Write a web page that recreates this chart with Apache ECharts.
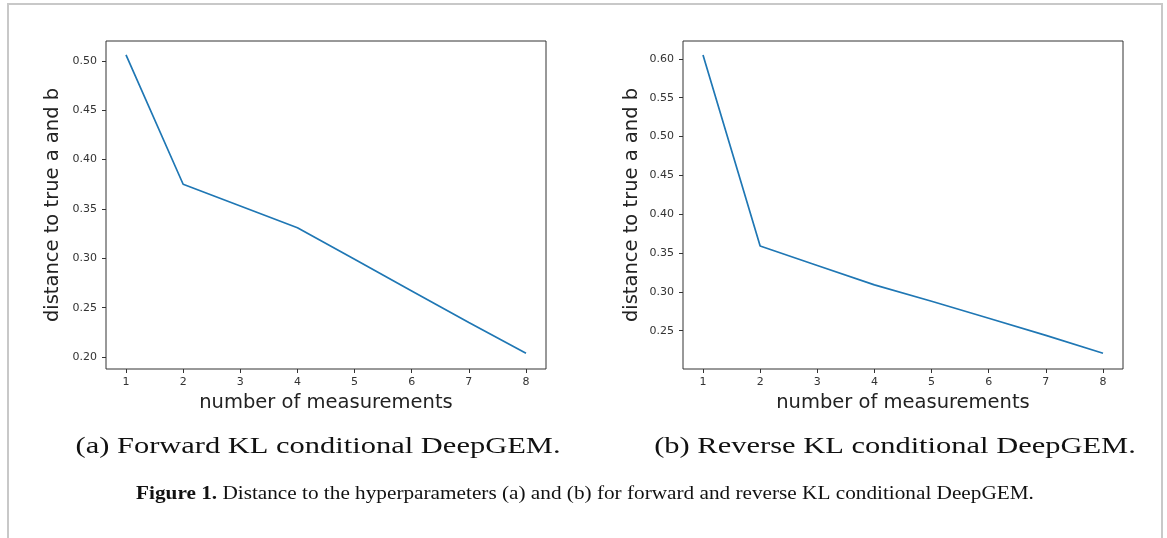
<!DOCTYPE html>
<html>
<head>
<meta charset="utf-8">
<script src="https://cdn.jsdelivr.net/npm/echarts@6/dist/echarts.min.js"></script>
<style>
  html, body { margin: 0; padding: 0; background: #fff; }
  #main { width: 1167px; height: 538px; }
</style>
</head>
<body>
<div id="main"></div>
<script>
// number of measurements
var measurements = [1, 2, 3, 4, 5, 6, 7, 8];
// (a) forward KL, (b) reverse KL - distance to true a and b
var forwardKL = [0.506, 0.375, 0.353, 0.331, 0.299, 0.267, 0.235, 0.204];
var reverseKL = [0.605, 0.359, 0.334, 0.309, 0.288, 0.266, 0.244, 0.221];
var xTicks = [1, 2, 3, 4, 5, 6, 7, 8];
var yTicksA = [0.20, 0.25, 0.30, 0.35, 0.40, 0.45, 0.50];
var yTicksB = [0.25, 0.30, 0.35, 0.40, 0.45, 0.50, 0.55, 0.60];

var subCaptions = ['(a) Forward KL conditional DeepGEM.', '(b) Reverse KL conditional DeepGEM.'];
var figLabel = 'Figure 1.';
var figText = ' Distance to the hyperparameters (a) and (b) for forward and reverse KL conditional DeepGEM.';

function pairs(ys) {
  return measurements.map(function (x, i) { return [x, ys[i]]; });
}

function xAxisOf(idx) {
  return {
    type: 'value', gridIndex: idx, min: 0.65, max: 8.35,
    name: 'number of measurements', nameLocation: 'middle', nameGap: 24,
    nameTextStyle: { fontFamily: 'DejaVu Sans', fontSize: 19.5, color: '#222' },
    axisLine: { show: false },
    splitLine: { show: false },
    axisTick: { show: true, inside: false, length: 4, customValues: xTicks, lineStyle: { color: '#333' } },
    axisLabel: { customValues: xTicks, fontFamily: 'DejaVu Sans', fontSize: 11, color: '#333', margin: 8 }
  };
}

function yAxisOf(idx, min, max, ticks, gap) {
  return {
    type: 'value', gridIndex: idx, min: min, max: max,
    name: 'distance to true a and b', nameLocation: 'middle', nameGap: gap, nameRotate: 90,
    nameTextStyle: { fontFamily: 'DejaVu Sans', fontSize: 19.5, color: '#222' },
    axisLine: { show: false },
    splitLine: { show: false },
    axisTick: { show: true, inside: false, length: 4, customValues: ticks, lineStyle: { color: '#333' } },
    axisLabel: {
      customValues: ticks, fontFamily: 'DejaVu Sans', fontSize: 11, color: '#333', margin: 9,
      formatter: function (v) { return v.toFixed(2); }
    }
  };
}

var chart = echarts.init(document.getElementById('main'), null, { renderer: 'canvas' });
chart.setOption({
  animation: false,
  backgroundColor: '#fff',
  grid: [
    { left: 106, top: 41, width: 440, height: 328, show: true, borderColor: '#333', borderWidth: 1, backgroundColor: 'transparent' },
    { left: 683, top: 41, width: 440, height: 328, show: true, borderColor: '#333', borderWidth: 1, backgroundColor: 'transparent' }
  ],
  xAxis: [xAxisOf(0), xAxisOf(1)],
  yAxis: [yAxisOf(0, 0.188, 0.52, yTicksA, 43), yAxisOf(1, 0.2007, 0.623, yTicksB, 41)],
  series: [
    { type: 'line', xAxisIndex: 0, yAxisIndex: 0, data: pairs(forwardKL), showSymbol: false,
      lineStyle: { color: '#1f77b4', width: 1.7 } },
    { type: 'line', xAxisIndex: 1, yAxisIndex: 1, data: pairs(reverseKL), showSymbol: false,
      lineStyle: { color: '#1f77b4', width: 1.7 } }
  ],
  graphic: [
    { type: 'rect', shape: { x: 8, y: 4, width: 1154, height: 600 }, silent: true,
      style: { fill: 'none', stroke: '#c8c8c8', lineWidth: 2 } },
    { type: 'text', x: 318, y: 447, scaleX: 1.27,
      style: { text: subCaptions[0], font: '24px "Liberation Serif"', fill: '#111', textAlign: 'center', textVerticalAlign: 'middle' } },
    { type: 'text', x: 895, y: 447, scaleX: 1.27,
      style: { text: subCaptions[1], font: '24px "Liberation Serif"', fill: '#111', textAlign: 'center', textVerticalAlign: 'middle' } },
    { type: 'text', x: 585, y: 494, scaleX: 1.18,
      style: {
        text: '{b|' + figLabel + '}{r|' + figText + '}',
        textAlign: 'center', textVerticalAlign: 'middle',
        rich: {
          b: { fontFamily: 'Liberation Serif', fontWeight: 'bold', fontSize: 18, fill: '#111' },
          r: { fontFamily: 'Liberation Serif', fontSize: 18, fill: '#111' }
        }
      } }
  ]
});
</script>
</body>
</html>
